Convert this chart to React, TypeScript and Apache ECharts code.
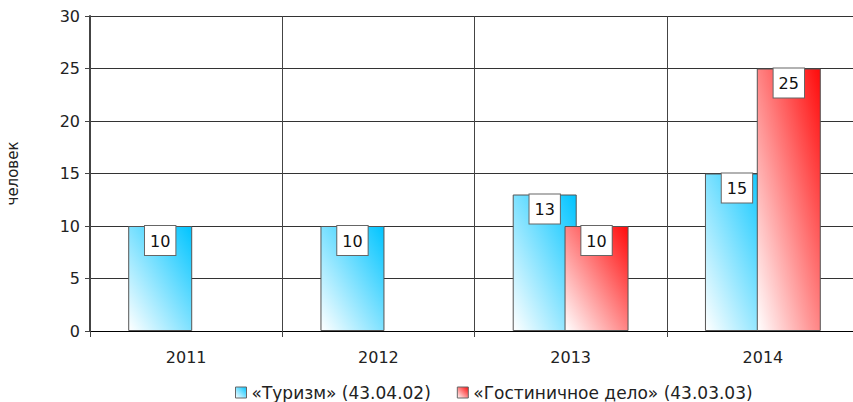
import React, { useEffect, useRef } from "react";
import * as echarts from "echarts";

const categories = ["2011", "2012", "2013", "2014"];
const tourism = [10, 10, 13, 15];
const hotel = [null, null, 10, 25];
const seriesNames = ["«Туризм» (43.04.02)", "«Гостиничное дело» (43.03.03)"];
const yAxisName = "человек";

const FONT = "DejaVu Sans";

export default function App() {
  const ref = useRef<HTMLDivElement>(null);
  useEffect(() => {
    if (!ref.current) return;
    const chart = echarts.init(ref.current, null, { renderer: "svg" });
    const grad = (c: string) =>
      new echarts.graphic.LinearGradient(0, 1, 1, 0, [
        { offset: 0, color: "#ffffff" },
        { offset: 1, color: c },
      ]);
    const label = {
      show: true,
      position: "insideTop",
      distance: 0,
      backgroundColor: "#ffffff",
      borderColor: "#666666",
      borderWidth: 1,
      padding: [7, 5, 6, 5],
      color: "#111",
      fontFamily: FONT,
      fontSize: 16,
    };
    chart.setOption({
      animation: false,
      textStyle: { fontFamily: FONT },
      grid: {
        left: 90,
        right: -6,
        top: 16,
        bottom: 71,
        containLabel: false,
        outerBoundsMode: "none",
      },
      legend: {
        left: 235,
        top: 384,
        padding: 0,
        itemWidth: 11,
        itemHeight: 11,
        itemGap: 26,
        icon: "rect",
        textStyle: { fontFamily: FONT, fontSize: 17, color: "#222" },
        data: seriesNames.map((n) => ({
          name: n,
          itemStyle: { borderColor: "#666", borderWidth: 1 },
        })),
      },
      xAxis: {
        type: "category",
        data: categories,
        axisLine: { lineStyle: { color: "#000", width: 1 } },
        axisTick: { show: true, length: 6, lineStyle: { color: "#444" } },
        axisLabel: { fontFamily: FONT, fontSize: 16, color: "#222", margin: 18 },
        splitLine: { show: true, lineStyle: { color: "#444", width: 1 } },
      },
      yAxis: {
        type: "value",
        min: 0,
        max: 30,
        interval: 5,
        name: yAxisName,
        nameLocation: "middle",
        nameGap: 70,
        nameRotate: 90,
        nameTextStyle: { fontFamily: FONT, fontSize: 15, color: "#222" },
        axisLine: { show: true, lineStyle: { color: "#444", width: 2 } },
        axisTick: { show: true, length: 5, lineStyle: { color: "#444" } },
        axisLabel: { fontFamily: FONT, fontSize: 16, color: "#222", margin: 10 },
        splitLine: { show: true, lineStyle: { color: "#333", width: 1 } },
      },
      series: [
        {
          name: seriesNames[0],
          type: "bar",
          data: tourism,
          barWidth: 64,
          barGap: "-19%",
          itemStyle: { color: grad("#00c4ff"), borderColor: "#555", borderWidth: 1 },
          label,
        },
        {
          name: seriesNames[1],
          type: "bar",
          data: hotel,
          barWidth: 64,
          barGap: "-19%",
          itemStyle: { color: grad("#ff0a0a"), borderColor: "#555", borderWidth: 1 },
          label,
        },
      ],
    });
    return () => chart.dispose();
  }, []);
  return (
    <div
      ref={ref}
      style={{ position: "fixed", left: 0, top: 0, width: 853, height: 402, background: "#fff" }}
    />
  );
}
